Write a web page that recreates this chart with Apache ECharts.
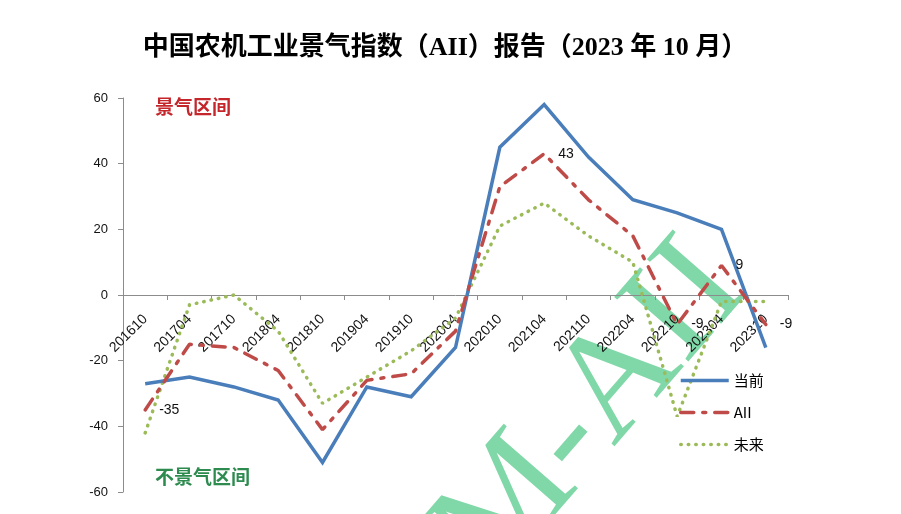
<!DOCTYPE html>
<html>
<head>
<meta charset="utf-8">
<script src="https://cdn.jsdelivr.net/npm/echarts@6/dist/echarts.min.js"></script>
<style>
html,body{margin:0;padding:0;background:#fff;}
#c{width:901px;height:514px;}
</style>
</head>
<body>
<div id="c"></div>
<script>
const categories = ['201610','201704','201710','201804','201810','201904','201910','202004','202010','202104','202110','202204','202210','202304','202310'];
const currentVals = [-27,-25,-28,-32,-51,-28,-31,-16,45,58,42,29,25,20,-16];
const aiiVals = [-35,-15,-16,-23,-41,-26,-24,-11,33,43,29,18,-9,9,-9];
const futureVals = [-42,-3,0,-11,-33,-25,-17,-7,21,28,18,10,-37,-2,-2];
const aiiLabelIdx = [0,9,12,13,14];
const seriesNames = ['当前','AII','未来'];

const chart = echarts.init(document.getElementById('c'));
const cjk = '"Noto Sans CJK SC", "Liberation Sans", sans-serif';

const aiiData = aiiVals.map((v, i) => aiiLabelIdx.includes(i)
  ? { value: v, label: { show: true } } : v);

chart.setOption({
  backgroundColor: '#fff',
  animation: false,
  title: {
    text: '中国农机工业景气指数（AII）报告（2023 年 10 月）',
    left: 440, textAlign: 'center', top: 30,
    textStyle: { fontFamily: '"Liberation Serif", "Noto Sans CJK SC", serif', fontSize: 26, fontWeight: 'bold', color: '#000' }
  },
  legend: {
    orient: 'vertical', left: 674, top: 368, itemGap: 17,
    itemWidth: 48, itemHeight: 14,
    itemStyle: { opacity: 0 },
    lineStyle: { width: 3.5 },
    textStyle: { fontFamily: cjk, fontSize: 15, color: '#000' },
    data: seriesNames
  },
  grid: { left: 123, right: 113, top: 98, bottom: 22, containLabel: false, outerBoundsMode: 'none' },
  xAxis: {
    type: 'category', data: categories, boundaryGap: true, offset: -197,
    axisLine: { onZero: false, lineStyle: { color: '#8c8c8c', width: 1 } },
    axisTick: { show: true, length: 5, lineStyle: { color: '#8c8c8c' } },
    axisLabel: { interval: 0, rotate: 45, margin: 22, fontSize: 14, color: '#111', fontFamily: '"Liberation Sans", sans-serif' },
    splitLine: { show: false }
  },
  yAxis: {
    type: 'value', min: -60, max: 60, interval: 20,
    axisLine: { show: true, lineStyle: { color: '#8c8c8c', width: 1 } },
    axisTick: { show: true, length: 5, lineStyle: { color: '#8c8c8c' } },
    axisLabel: { fontSize: 13, color: '#111', margin: 15, fontFamily: '"Liberation Sans", sans-serif' },
    splitLine: { show: false }
  },
  graphic: [
    {
      type: 'text', x: 592, y: 412, rotation: 49 * Math.PI / 180, z: -10, silent: true,
      style: { text: 'M-AII', font: '150px "Liberation Serif", serif', fill: '#80d8a8',
               textAlign: 'center', textVerticalAlign: 'middle' }
    },
    {
      type: 'text', left: 155, top: 97, z: 10,
      style: { text: '景气区间', font: 'bold 19px "Noto Sans CJK SC"', fill: '#c4262c',
               shadowBlur: 4, shadowColor: 'rgba(230,120,120,0.6)' }
    },
    {
      type: 'text', left: 155, top: 467, z: 10,
      style: { text: '不景气区间', font: 'bold 19px "Noto Sans CJK SC"', fill: '#2e8b50',
               shadowBlur: 4, shadowColor: 'rgba(120,200,150,0.6)' }
    }
  ],
  series: [
    {
      name: seriesNames[0], type: 'line', data: currentVals, symbol: 'circle', symbolSize: 0.01, z: 3,
      lineStyle: { color: '#4a7ebb', width: 3.5, join: 'miter' },
      itemStyle: { color: '#4a7ebb' }
    },
    {
      name: seriesNames[1], type: 'line', data: aiiData, symbol: 'circle', symbolSize: 0.01, z: 4,
      lineStyle: { color: '#be4b48', width: 3.5, type: [13, 9, 3, 9], cap: 'round' },
      itemStyle: { color: '#be4b48' },
      label: { show: false, position: 'right', distance: 14, fontSize: 14, color: '#111',
               fontFamily: '"Liberation Sans", sans-serif' }
    },
    {
      name: seriesNames[2], type: 'line', data: futureVals, symbol: 'circle', symbolSize: 0.01, z: 2,
      lineStyle: { color: '#9bbb59', width: 3.5, type: [0.5, 7], cap: 'round' },
      itemStyle: { color: '#9bbb59' }
    }
  ]
});
</script>
</body>
</html>
